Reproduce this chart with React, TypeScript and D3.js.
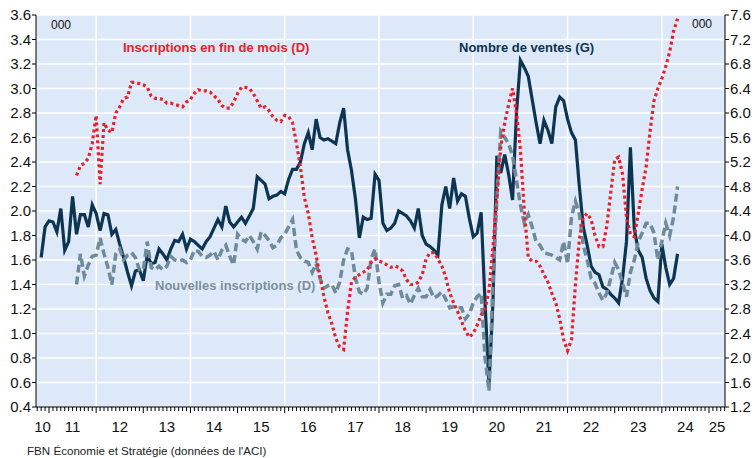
import React, { useEffect } from "react"
import * as d3 from "d3"

// dimensions
const W = 754
const H = 458
const plot = { left: 36, right: 725, top: 15, bottom: 407 }

// Nombre de ventes (G), monthly from Nov 2010, thousands
const ventesStart = { year: 2010, month: 10 }
const ventes = [
	1.62, 1.87, 1.92, 1.91, 1.83, 2.02, 1.68, 1.75, 2.12, 1.81,
	1.97, 1.97, 1.87, 2.05, 1.98, 1.84, 1.98, 1.97, 1.81, 1.85,
	1.73, 1.62, 1.5, 1.39, 1.51, 1.52, 1.43, 1.64, 1.57, 1.58,
	1.69, 1.65, 1.6, 1.69, 1.76, 1.75, 1.81, 1.69, 1.77, 1.75,
	1.72, 1.69, 1.75, 1.79, 1.86, 1.93, 1.87, 2.04, 1.91, 1.87,
	1.91, 1.95, 1.9, 1.96, 2.02, 2.28, 2.25, 2.22, 2.1, 2.12,
	2.13, 2.16, 2.14, 2.26, 2.34, 2.34, 2.4, 2.55, 2.64, 2.5,
	2.75, 2.6, 2.58, 2.59, 2.57, 2.55, 2.72, 2.84, 2.5, 2.33,
	2.1, 1.78, 1.95, 1.93, 1.94, 2.3, 2.25, 1.9, 1.84, 1.86,
	1.9, 2.0, 1.98, 1.96, 1.92, 1.86, 2.02, 1.8, 1.73, 1.71,
	1.68, 1.64, 2.05, 2.2, 2.02, 2.27, 2.08, 2.14, 2.12, 1.94,
	1.79, 1.82, 1.99, 1.25, 0.58, 1.25, 2.45, 2.31, 2.46, 2.3,
	2.09, 2.8, 3.23, 3.17, 3.1, 2.91, 2.72, 2.55, 2.74, 2.66,
	2.55, 2.85, 2.93, 2.9, 2.75, 2.64, 2.58, 2.2, 1.87, 1.72,
	1.55, 1.5, 1.48, 1.38, 1.36, 1.32, 1.29, 1.25, 1.45, 1.75,
	2.52, 1.85, 1.68, 1.62, 1.45, 1.35, 1.29, 1.26, 1.73, 1.54,
	1.4, 1.45, 1.65,
]

// Inscriptions en fin de mois (D) and Nouvelles inscriptions (D), monthly from Aug 2011
const inscriptionsStart = { year: 2011, month: 7 }
const inscriptionsFinMois = [
	4.98, 5.14, 5.18, 5.26, 5.5, 5.96, 4.84, 5.84, 5.72, 5.68,
	6.0, 6.1, 6.24, 6.26, 6.5, 6.5, 6.48, 6.46, 6.42, 6.28,
	6.24, 6.24, 6.22, 6.16, 6.16, 6.14, 6.12, 6.1, 6.18, 6.22,
	6.32, 6.38, 6.36, 6.36, 6.34, 6.28, 6.22, 6.12, 6.08, 6.08,
	6.18, 6.32, 6.42, 6.42, 6.4, 6.32, 6.2, 6.08, 6.1, 6.04,
	5.94, 5.88, 5.86, 5.96, 5.94, 5.84, 5.5, 5.12, 4.62, 4.36,
	3.96, 3.68, 3.32, 3.0, 2.74, 2.56, 2.32, 2.18, 2.14, 2.76,
	3.24, 3.32, 3.36, 3.4, 3.44, 3.56, 3.62, 3.58, 3.56, 3.52,
	3.48, 3.5, 3.48, 3.42, 3.28, 3.2, 3.2, 3.24, 3.36, 3.62,
	3.72, 3.72, 3.62, 3.5, 3.32, 3.06, 2.9, 2.76, 2.6, 2.44,
	2.34, 2.4, 2.54, 2.7, 2.8, 3.1, 3.8, 4.6, 5.44, 5.84,
	6.14, 6.4, 6.0, 5.4, 4.4, 3.64, 3.58, 3.58, 3.5, 3.36,
	3.24, 3.06, 2.9, 2.64, 2.3, 2.12, 2.3, 3.2, 3.94, 4.3,
	4.36, 4.26, 4.0, 3.82, 3.82, 4.16, 4.7, 5.24, 5.28, 5.0,
	4.3, 4.02, 3.98, 4.36, 4.76, 5.12, 5.7, 6.2, 6.4, 6.56,
	6.76, 7.0, 7.34, 7.54,
]
const nouvellesInscriptions = [
	3.2, 3.7, 3.34, 3.52, 3.66, 3.68, 3.96, 3.7, 3.48, 3.2,
	3.7, 3.78, 3.6, 3.68, 3.72, 3.64, 3.44, 3.44, 3.9, 3.48,
	3.44, 3.5, 3.44, 3.5, 3.66, 3.6, 3.58, 3.6, 3.56, 3.6,
	3.76, 3.74, 3.66, 3.64, 3.68, 3.74, 3.6, 3.76, 3.84, 3.66,
	3.52, 4.02, 3.94, 3.9, 4.0, 3.9, 3.78, 4.06, 4.0, 3.92,
	3.8, 3.84, 3.96, 4.02, 4.14, 4.26, 3.76, 3.64, 3.58, 3.56,
	3.4, 3.54, 3.3, 3.14, 3.18, 3.2, 3.06, 3.24, 3.6, 3.78,
	3.76, 3.3, 3.08, 3.04, 3.14, 3.62, 3.78, 3.24, 2.9, 3.04,
	3.04, 3.18, 3.2, 2.98, 3.02, 2.88, 3.02, 3.14, 3.0, 3.0,
	3.12, 2.98, 3.02, 3.08, 2.96, 2.82, 2.84, 2.82, 2.82, 2.64,
	2.72, 2.9, 3.0, 3.06, 2.0, 1.46, 3.2, 4.6, 5.7, 5.6,
	5.5, 5.3, 4.9, 4.5, 4.2, 4.34, 4.14, 3.9, 3.84, 3.72,
	3.7, 3.68, 3.64, 3.6, 3.9, 3.54, 4.3, 4.56, 4.36, 3.84,
	3.6, 3.3, 3.22, 3.06, 2.94, 3.06, 3.3, 3.56, 3.44, 3.22,
	3.0, 3.4, 3.6, 3.9, 4.04, 4.2, 4.2, 4.04, 3.6, 3.9,
	4.2, 4.0, 4.3, 4.8,
]

// axes
const leftTicks = [0.4, 0.6, 0.8, 1.0, 1.2, 1.4, 1.6, 1.8, 2.0, 2.2, 2.4, 2.6, 2.8, 3.0, 3.2, 3.4, 3.6]
const rightTicks = [1.2, 1.6, 2.0, 2.4, 2.8, 3.2, 3.6, 4.0, 4.4, 4.8, 5.2, 5.6, 6.0, 6.4, 6.8, 7.2, 7.6]
const yearLabels = ["10", "11", "12", "13", "14", "15", "16", "17", "18", "19", "20", "21", "22", "23", "24", "25"]
const gridYears = [2012, 2014, 2016, 2018, 2020, 2022, 2024]
const xDomain = [2010.724, 2025.34]

const FONT = "'Liberation Sans', Arial, sans-serif"
const NAVY = "#0d3450"
const RED = "#e8202a"
const GREY = "#6f8a99"

const App = () => {
	useEffect(() => {
		document.body.style.margin = "0"
	}, [])

	const x = d3.scaleLinear().domain(xDomain).range([plot.left, plot.right])
	const yL = d3.scaleLinear().domain([0.4, 3.6]).range([plot.bottom, plot.top])
	const yR = d3.scaleLinear().domain([1.2, 7.6]).range([plot.bottom, plot.top])

	const monthT = (s: { year: number; month: number }, i: number) => s.year + (s.month + i) / 12

	const lineL = d3
		.line<number>()
		.x((d, i) => x(monthT(ventesStart, i)))
		.y((d) => yL(d))
	const lineR = d3
		.line<number>()
		.x((d, i) => x(monthT(inscriptionsStart, i)))
		.y((d) => yR(d))

	// monthly ticks along the bottom
	const months = d3.range(0, 200).map((k) => ({ t: 2010 + (9 + k) / 12, major: (9 + k) % 12 === 0 })).filter((m) => m.t <= xDomain[1])

	return (
		<svg width={W} height={H} style={{ display: "block", background: "#fff" }} fontFamily={FONT}>
			<rect x={plot.left} y={plot.top} width={plot.right - plot.left} height={plot.bottom - plot.top} fill="#dde9f8" />

			{/* grid */}
			{leftTicks.slice(1).map((v) => (
				<line key={"h" + v} x1={plot.left} x2={plot.right} y1={yL(v)} y2={yL(v)} stroke="#fff" strokeWidth={1.5} />
			))}
			{gridYears.map((yr) => (
				<line key={"v" + yr} x1={x(yr)} x2={x(yr)} y1={plot.top} y2={plot.bottom} stroke="#fff" strokeWidth={1.5} />
			))}

			{/* series */}
			<path d={lineL(ventes) || ""} fill="none" stroke={NAVY} strokeWidth={3.2} />
			<path d={lineR(nouvellesInscriptions) || ""} fill="none" stroke={GREY} strokeWidth={3.5} strokeDasharray="8,4" />
			<path d={lineR(inscriptionsFinMois) || ""} fill="none" stroke={RED} strokeWidth={3.2} strokeDasharray="3,3" />

			{/* left axis */}
			<line x1={plot.left} x2={plot.left} y1={plot.top} y2={plot.bottom} stroke="#000" />
			{leftTicks.map((v) => (
				<g key={"l" + v}>
					<line x1={plot.left - 4} x2={plot.left} y1={yL(v)} y2={yL(v)} stroke="#000" />
					<text x={plot.left - 5} y={yL(v) + 5} fontSize={15} textAnchor="end" fill="#111">
						{v.toFixed(1)}
					</text>
				</g>
			))}

			{/* right axis */}
			<line x1={plot.right} x2={plot.right} y1={plot.top} y2={plot.bottom} stroke="#000" />
			{rightTicks.map((v) => (
				<g key={"r" + v}>
					<line x1={plot.right} x2={plot.right + 4} y1={yR(v)} y2={yR(v)} stroke="#000" />
					<text x={plot.right + 5} y={yR(v) + 5} fontSize={15} fill="#111">
						{v.toFixed(1)}
					</text>
				</g>
			))}

			{/* bottom axis */}
			<line x1={plot.left} x2={plot.right} y1={plot.bottom} y2={plot.bottom} stroke="#000" />
			{months.map((m) => (
				<line key={"m" + m.t} x1={x(m.t)} x2={x(m.t)} y1={plot.bottom} y2={plot.bottom + (m.major ? 6 : 4)} stroke="#000" />
			))}
			{yearLabels.map((lab, i) => {
				const a = Math.max(2010 + i, xDomain[0])
				const b = Math.min(2011 + i, xDomain[1])
				return (
					<text key={"y" + lab} x={(x(a) + x(b)) / 2} y={432} fontSize={15} textAnchor="middle" fill="#111">
						{lab}
					</text>
				)
			})}

			{/* unit labels */}
			<text x={51} y={29} fontSize={12} fill="#111">000</text>
			<text x={692} y={27.5} fontSize={12} fill="#111">000</text>

			{/* series labels */}
			<text x={123} y={52} fontSize={13} fontWeight="bold" fill={RED}>Inscriptions en fin de mois (D)</text>
			<text x={459} y={52} fontSize={13} fontWeight="bold" fill={NAVY}>Nombre de ventes (G)</text>
			<text x={155} y={290} fontSize={13} fontWeight="bold" fill="#7a909c">Nouvelles inscriptions (D)</text>

			<text x={27} y={455} fontSize={11.6} fill="#222">FBN Économie et Stratégie (données de l'ACI)</text>
		</svg>
	)
}

export default App
